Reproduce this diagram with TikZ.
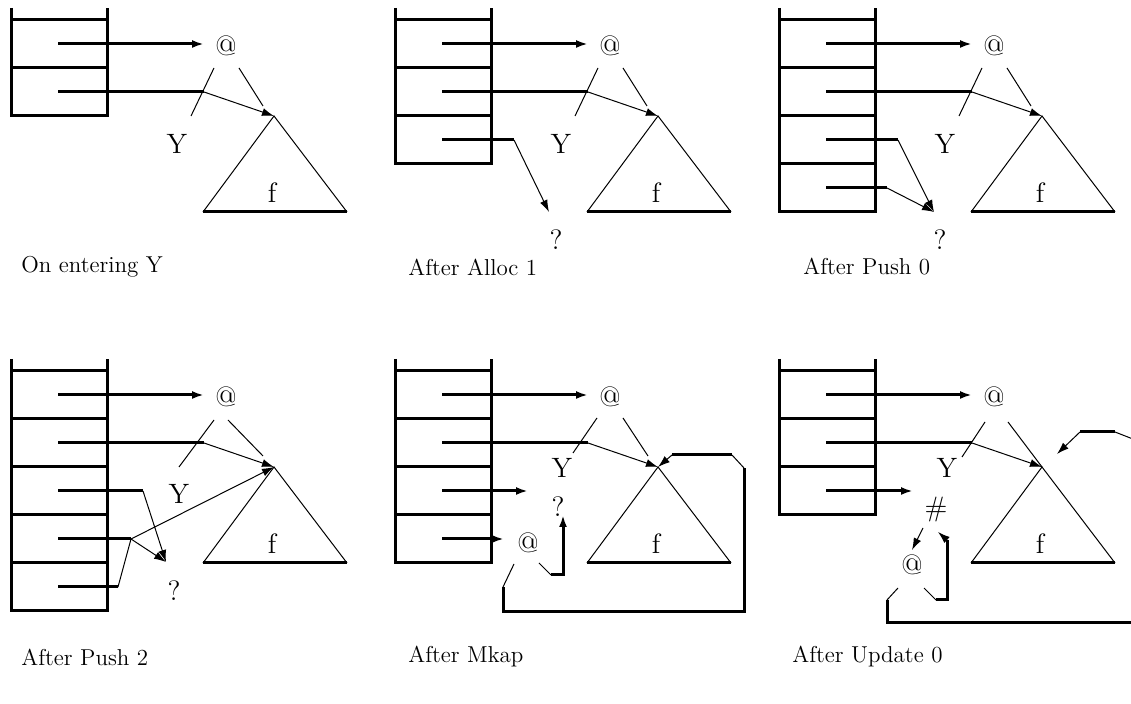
\documentclass[tikz,border=0pt]{standalone}
\usetikzlibrary{arrows.meta}

\tikzset{
  stack/.style={line width=1.5pt},
  ptr/.style={line width=1.5pt},
  ptrarrow/.style={line width=1.5pt,-{Latex[length=6pt,width=4pt]}},
  link/.style={line width=0.5pt},
  linkarrow/.style={line width=0.5pt,-{Latex[length=6pt,width=4pt]}},
  lbl/.style={inner sep=0pt,font=\fontsize{14}{16}\selectfont},
  caption/.style={inner sep=0pt,anchor=west,font=\fontsize{11.5}{14}\selectfont},
}

% stack with #1 cells
\newcommand{\stackbox}[1]{%
  \draw[stack] (11,8) -- (11,{20+48*#1}) -- (107,{20+48*#1}) -- (107,8);
  \foreach \row in {1,...,#1}
  {
    \draw[stack] (11,{20+48*(\row-1)}) -- (107,{20+48*(\row-1)});
  }
}

% top application node, function graph and the first two pointers
\newcommand{\graphtop}{%
  \node[lbl] (app) at (226,46) {@};
  \coordinate (apex) at (274,116);
  \coordinate (bl) at (203,212);
  \coordinate (br) at (347,212);
  \node[lbl] (f) at (272,193) {f};
  \draw[link] (bl) -- (apex) -- (br);
  \draw[stack] (bl) -- (br);
  \foreach \index in {1,2}
  {
    \coordinate (s\index) at (58,{44+48*(\index-1)});
    \coordinate (e\index) at (204,{44+48*(\index-1)});
  }
  \draw[ptrarrow] (s1) -- (e1);
  \draw[ptr] (s2) -- (e2);
  \draw[linkarrow] (e2) -- (apex);
}

\begin{document}
\begin{tikzpicture}[x=0.5pt,y=-0.5pt]
\useasboundingbox (0,0) rectangle (1131,704);

%%%%%%%%%%%%%%%%%%%% On entering Y %%%%%%%%%%%%%%%%%%%%
\begin{scope}[name prefix=pa-]
\stackbox{2}
\graphtop
\node[lbl] (y) at (177,144) {Y};
\coordinate (yl1) at (214,68);
\coordinate (yl2) at (191,116);
\coordinate (yr1) at (239,68);
\coordinate (yr2) at (263,106);
\draw[link] (yl1) -- (yl2);
\draw[link] (yr1) -- (yr2);
\node[caption] (cap) at (21,267) {On entering Y};
\end{scope}

%%%%%%%%%%%%%%%%%%%% After Alloc 1 %%%%%%%%%%%%%%%%%%%%
\begin{scope}[shift={(384,0)},name prefix=pb-]
\stackbox{3}
\graphtop
\node[lbl] (y) at (177,144) {Y};
\coordinate (yl1) at (214,68);
\coordinate (yl2) at (191,116);
\coordinate (yr1) at (239,68);
\coordinate (yr2) at (263,106);
\draw[link] (yl1) -- (yl2);
\draw[link] (yr1) -- (yr2);

%new cell
\coordinate (s3) at (58,140);
\coordinate (e3) at (130,140);
\node[lbl] (q) at (172,240) {?};
\coordinate (qt) at (165,212);
\draw[ptr] (s3) -- (e3);
\draw[linkarrow] (e3) -- (qt);
\node[caption] (cap) at (24,267) {After Alloc 1};
\end{scope}

%%%%%%%%%%%%%%%%%%%% After Push 0 %%%%%%%%%%%%%%%%%%%%
\begin{scope}[shift={(768,0)},name prefix=pc-]
\stackbox{4}
\graphtop
\node[lbl] (y) at (177,144) {Y};
\coordinate (yl1) at (214,68);
\coordinate (yl2) at (191,116);
\coordinate (yr1) at (239,68);
\coordinate (yr2) at (263,106);
\draw[link] (yl1) -- (yl2);
\draw[link] (yr1) -- (yr2);

\coordinate (s3) at (58,140);
\coordinate (e3) at (130,140);
\coordinate (s4) at (58,188);
\coordinate (e4) at (119,188);
\node[lbl] (q) at (172,240) {?};
\coordinate (qt) at (166,212);
\draw[ptr] (s3) -- (e3);
\draw[ptr] (s4) -- (e4);
\foreach \index in {3,4}
{
    \draw[linkarrow] (e\index) -- (qt);
}
\node[caption] (cap) at (35,267) {After Push 0};
\end{scope}

%%%%%%%%%%%%%%%%%%%% After Push 2 %%%%%%%%%%%%%%%%%%%%
\begin{scope}[shift={(0,351)},name prefix=pd-]
\stackbox{5}
\graphtop
\node[lbl] (y) at (179,143) {Y};
\coordinate (yl1) at (214,69);
\coordinate (yl2) at (179,116);
\coordinate (yr1) at (228,69);
\coordinate (yr2) at (263,105);
\draw[link] (yl1) -- (yl2);
\draw[link] (yr1) -- (yr2);

\coordinate (s3) at (58,140);
\coordinate (e3) at (143,140);
\coordinate (s4) at (58,188);
\coordinate (e4) at (131,188);
\coordinate (s5) at (58,236);
\coordinate (e5) at (118,236);
\node[lbl] (q) at (174,240) {?};
\coordinate (qt) at (166,211);
\foreach \index in {3,4,5}
{
    \draw[ptr] (s\index) -- (e\index);
}
\draw[linkarrow] (e3) -- (qt);
\draw[linkarrow] (e4) -- (qt);
\draw[linkarrow] (e4) -- (apex);
\draw[link] (e5) -- (e4);
\node[caption] (cap) at (21,306) {After Push 2};
\end{scope}

%%%%%%%%%%%%%%%%%%%% After Mkap %%%%%%%%%%%%%%%%%%%%
\begin{scope}[shift={(384,351)},name prefix=pe-]
\stackbox{4}
\graphtop
\node[lbl] (y) at (178,117) {Y};
\coordinate (yl1) at (213,67);
\coordinate (yl2) at (189,102);
\coordinate (yr1) at (239,67);
\coordinate (yr2) at (264,105);
\draw[link] (yl1) -- (yl2);
\draw[link] (yr1) -- (yr2);

\coordinate (s3) at (58,140);
\coordinate (e3) at (144,140);
\coordinate (s4) at (58,188);
\coordinate (e4) at (120,188);
\draw[ptrarrow] (s3) -- (e3);
\draw[ptrarrow] (s4) -- (e4);
\node[lbl] (q) at (174,156) {?};
\node[lbl] (app2) at (144,192) {@};

%left child loops back to f
\coordinate (l1) at (130,213);
\coordinate (l2) at (119,236);
\coordinate (l3) at (119,261);
\coordinate (l4) at (360,261);
\coordinate (l5) at (360,117);
\coordinate (l6) at (348,104);
\coordinate (l7) at (288,104);
\draw[link] (l1) -- (l2);
\draw[stack] (l2) -- (l3) -- (l4) -- (l5);
\draw[link] (l5) -- (l6);
\draw[stack] (l6) -- (l7);
\draw[linkarrow] (l7) -- (apex);

%right child to ?
\coordinate (r1) at (155,212);
\coordinate (r2) at (167,224);
\coordinate (r3) at (179,224);
\coordinate (r4) at (179,164);
\draw[link] (r1) -- (r2);
\draw[ptrarrow] (r2) -- (r3) -- (r4);
\node[caption] (cap) at (24,306) {After Mkap};
\end{scope}

%%%%%%%%%%%%%%%%%%%% After Update 0 %%%%%%%%%%%%%%%%%%%%
\begin{scope}[shift={(768,351)},name prefix=pf-]
\stackbox{3}
\graphtop
\node[lbl] (y) at (179,117) {Y};
\coordinate (yl1) at (217,71);
\coordinate (yl2) at (194,106);
\coordinate (yr1) at (240,71);
\draw[link] (yl1) -- (yl2);
\draw[link] (yr1) -- (apex);

\coordinate (s3) at (58,140);
\coordinate (e3) at (145,140);
\draw[ptrarrow] (s3) -- (e3);
\node[lbl] (hash) at (168,159) {\#};
\node[lbl] (app2) at (144,214) {@};
\coordinate (h1) at (155,177);
\coordinate (h2) at (144,199);
\draw[linkarrow] (h1) -- (h2);

%right child back to #
\coordinate (r1) at (156,237);
\coordinate (r2) at (168,249);
\coordinate (r3) at (179,249);
\coordinate (r4) at (179,189);
\coordinate (r5) at (170,181);
\draw[link] (r1) -- (r2);
\draw[stack] (r2) -- (r3) -- (r4);
\draw[linkarrow] (r4) -- (r5);

%left child, runs off to the right
\coordinate (l1) at (130,237);
\coordinate (l2) at (119,249);
\coordinate (l3) at (119,272);
\coordinate (l4) at (370,272);
\draw[link] (l1) -- (l2);
\draw[stack] (l2) -- (l3) -- (l4);

%pointer coming in from the right
\coordinate (t1) at (370,90);
\coordinate (t2) at (347,81);
\coordinate (t3) at (312,81);
\coordinate (t4) at (289,103);
\draw[link] (t1) -- (t2);
\draw[stack] (t2) -- (t3);
\draw[linkarrow] (t3) -- (t4);
\node[caption] (cap) at (24,306) {After Update 0};
\end{scope}

\end{tikzpicture}
\end{document}
